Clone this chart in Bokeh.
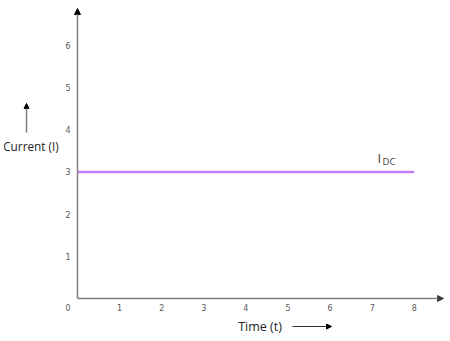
from bokeh.plotting import figure
from bokeh.models import Range1d, Arrow, NormalHead, Label
from bokeh.core.properties import value
from bokeh.embed import file_html
from bokeh.resources import INLINE

# data
x_ticks = [1, 2, 3, 4, 5, 6, 7, 8]
y_ticks = [1, 2, 3, 4, 5, 6]
time = [0, 8]
current = [3, 3]
origin_label = "0"
series_label = "I"
series_sub = "DC"

W, H = 450, 341
ox, oy = 77, 298          # canvas pixel of data origin
sx, sy = 42.1, 42.2        # pixels per unit

p = figure(width=W, height=H, output_backend="svg", toolbar_location=None,
           min_border=0,
           x_range=Range1d(-ox / sx, (W - ox) / sx), y_range=Range1d(-(H - oy) / sy, oy / sy))
p.outline_line_color = None
p.grid.visible = False
p.axis.visible = False
p.background_fill_color = "white"
p.border_fill_color = "white"

# tick labels (through data scales)
p.text(x=x_ticks, y=[-9 / sy] * len(x_ticks), text=[str(t) for t in x_ticks],
       text_font=value("DejaVu Sans"), text_font_size="8px", text_color="#595959",
       text_align="center", text_baseline="middle")
p.text(x=[-9.5 / sx] * len(y_ticks), y=y_ticks, text=[str(t) for t in y_ticks],
       text_font=value("DejaVu Sans"), text_font_size="8px", text_color="#595959",
       text_align="center", text_baseline="middle")
p.text(x=[-9.5 / sx], y=[-9 / sy], text=[origin_label],
       text_font=value("DejaVu Sans"), text_font_size="8px", text_color="#595959",
       text_align="center", text_baseline="middle")

# axis lines with arrow heads
p.add_layout(Arrow(end=NormalHead(size=6, fill_color="black", line_color="black"),
                   x_start=0, y_start=0, x_end=0, y_end=(oy - 8) / sy,
                   line_color="#808080", line_width=1.5))
p.add_layout(Arrow(end=NormalHead(size=6, fill_color="#404040", line_color="#404040"),
                   x_start=0, y_start=0, x_end=(443 - ox) / sx, y_end=0,
                   line_color="#808080", line_width=1.5))

# series line
p.line(time, current, line_color="#c080f8", line_width=2.5)

# series label I_DC
p.add_layout(Label(x=377, y=H - 157, x_units="screen", y_units="screen", text=series_label,
                   text_font="Open Sans", text_font_size="13px", text_color="#404040",
                   text_align="left", text_baseline="middle"))
p.add_layout(Label(x=382, y=H - 161, x_units="screen", y_units="screen", text=series_sub,
                   text_font="Open Sans", text_font_size="9.5px", text_color="#404040",
                   text_align="left", text_baseline="middle"))

# axis titles
p.add_layout(Label(x=30.5, y=H - 145, x_units="screen", y_units="screen", text="Current (I)",
                   text_font="Open Sans", text_font_size="11.8px", text_color="#262626",
                   text_align="center", text_baseline="middle"))
p.add_layout(Label(x=259.5, y=H - 326, x_units="screen", y_units="screen", text="Time (t)",
                   text_font="Open Sans", text_font_size="12.5px", text_color="#262626",
                   text_align="center", text_baseline="middle"))

# small direction arrows next to titles
p.add_layout(Arrow(end=NormalHead(size=5, fill_color="black", line_color="black"),
                   x_start=26, y_start=H - 132, x_end=26, y_end=H - 103,
                   start_units="screen", end_units="screen",
                   line_color="#808080", line_width=1.5))
p.add_layout(Arrow(end=NormalHead(size=5, fill_color="black", line_color="black"),
                   x_start=292, y_start=H - 326, x_end=331, y_end=H - 326,
                   start_units="screen", end_units="screen",
                   line_color="#303030", line_width=1))

open("out.html", "w").write(file_html(p, INLINE))
